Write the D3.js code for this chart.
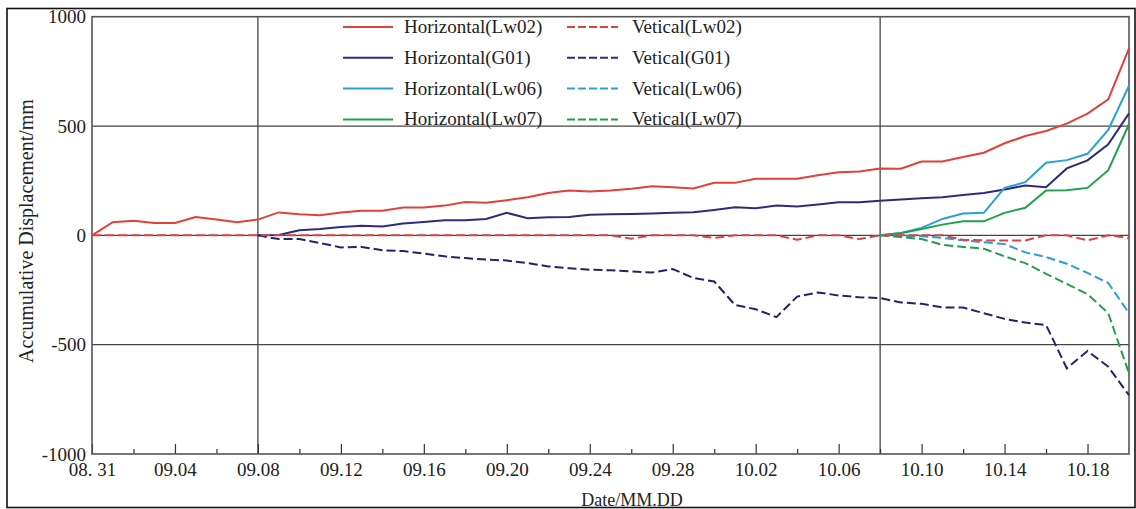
<!DOCTYPE html>
<html>
<head>
<meta charset="utf-8">
<script src="https://cdn.jsdelivr.net/npm/d3@7"></script>
<style>
  html, body { margin: 0; padding: 0; background: #fff; }
  svg { display: block; }
  text { font-family: "Liberation Serif", "Times New Roman", serif; fill: #222; }
</style>
</head>
<body>
<svg id="chart" width="1136" height="509"></svg>
<script>
// ---------- data ----------
const startDate = "2013-08-31";
const dayCount = 51; // 08.31 .. 10.20
const tickLabels = ["08. 31","09.04","09.08","09.12","09.16","09.20","09.24","09.28","10.02","10.06","10.10","10.14","10.18"];
const yTicks = [-1000, -500, 0, 500, 1000];
const seriesNames = ["Horizontal(Lw02)","Vetical(Lw02)","Horizontal(G01)","Vetical(G01)","Horizontal(Lw06)","Vetical(Lw06)","Horizontal(Lw07)","Vetical(Lw07)"];

const hLw02 = [0,60,67,57,57,84,72,60,72,105, 97,92,105,113,113,127,127,136,153,149, 161,174,194,205,200,205,213,225,220,214, 240,240,259,259,259,275,289,292,306,305, 338,338,358,378,421,454,477,511,557,622,855];
const vLw02 = [0,0,0,0,0,0,0,0,0,0, 0,0,0,0,0,0,0,0,0,0, 0,0,0,0,0,0,-15,0,0,0, -12,0,0,0,-20,0,0,-17,0,0, 0,0,-20,-23,-23,-23,0,0,-23,0,-12];
const hG01 = [null,null,null,null,null,null,null,null,0,2, 23,29,38,44,41,54,61,69,69,75, 103,78,83,84,94,96,98,100,103,106, 116,128,124,136,132,141,151,151,158,164, 170,174,184,194,210,228,220,306,343,416,558];
const vG01 = [null,null,null,null,null,null,null,null,0,-17, -17,-35,-55,-53,-68,-72,-83,-96,-104,-111, -115,-127,-142,-150,-157,-160,-165,-170,-154,-195, -211,-318,-338,-374,-280,-261,-275,-283,-287,-307, -313,-330,-330,-356,-382,-399,-410,-608,-529,-601,-731];
const lateStart = 38; // 10.08
const hLw06 = [0,11,34,75,100,103,217,243,332,344,373,482,684];
const vLw06 = [0,-2,-4,-12,-23,-32,-40,-78,-99,-130,-172,-218,-356];
const hLw07 = [0,10,29,49,64,64,103,126,205,206,217,298,508];
const vLw07 = [0,-8,-17,-43,-53,-61,-96,-127,-176,-222,-269,-356,-631];

const colors = { Lw02: "#e2403a", G01: "#2f2b7c", Lw06: "#2a9fd8", Lw07: "#20a04e" };

// ---------- setup ----------
const svg = d3.select("#chart");
const parse = d3.timeParse("%Y-%m-%d");
const d0 = parse(startDate);
const dates = d3.timeDay.range(d0, d3.timeDay.offset(d0, dayCount));
const lateDates = dates.slice(lateStart);

const L = 92, R = 1129, T = 16.7, B = 454;
const x = d3.scaleTime().domain([dates[0], dates[dates.length - 1]]).range([L, R]);
const y = d3.scaleLinear().domain([-1000, 1000]).range([B, T]);

// outer frame
svg.append("rect").attr("x", 7).attr("y", 8.5).attr("width", 1128).attr("height", 499)
  .attr("fill", "none").attr("stroke", "#111").attr("stroke-width", 1.6);

// gridlines
const gridG = svg.append("g");
[-500, 0, 500].forEach(v => {
  gridG.append("line").attr("x1", L).attr("x2", R).attr("y1", y(v)).attr("y2", y(v))
    .attr("stroke", "#444").attr("stroke-width", 1.3);
});
[dates[8], dates[38]].forEach(dt => {
  gridG.append("line").attr("x1", x(dt)).attr("x2", x(dt)).attr("y1", T).attr("y2", B)
    .attr("stroke", "#444").attr("stroke-width", 1.3);
});

// axes
const majorDates = tickLabels.map((_, i) => dates[i * 4]);
const minorDates = majorDates.map(dt => d3.timeDay.offset(dt, 2)).filter(dt => dt < dates[dates.length - 1]);

const xMinor = svg.append("g").attr("transform", `translate(0,${B})`)
  .call(d3.axisBottom(x).tickValues(minorDates).tickSizeInner(-5).tickSizeOuter(0).tickFormat(""));
xMinor.select(".domain").remove();
xMinor.selectAll("line").attr("stroke", "#333").attr("stroke-width", 1.2);

const xAxis = svg.append("g").attr("transform", `translate(0,${B})`)
  .call(d3.axisBottom(x).tickValues(majorDates).tickSizeInner(-10).tickSizeOuter(0)
    .tickPadding(9).tickFormat((d, i) => tickLabels[i]));
xAxis.select(".domain").remove();
xAxis.selectAll("line").attr("stroke", "#333").attr("stroke-width", 1.2);
xAxis.selectAll("text").attr("font-size", 19).attr("font-family", "Liberation Serif").attr("fill", "#222");

const yAxis = svg.append("g").attr("transform", `translate(${L},0)`)
  .call(d3.axisLeft(y).tickValues(yTicks).tickSize(0).tickPadding(6).tickFormat(d => String(d)));
yAxis.select(".domain").remove();
yAxis.selectAll("text").attr("font-size", 19).attr("font-family", "Liberation Serif").attr("fill", "#222");

// plot frame
svg.append("rect").attr("x", L).attr("y", T).attr("width", R - L).attr("height", B - T)
  .attr("fill", "none").attr("stroke", "#555").attr("stroke-width", 1.6);

// series
const line = d3.line().defined(d => d[1] !== null).x(d => x(d[0])).y(d => y(d[1]));
const dash = "9,4";
const series = [
  { vals: hLw02, ds: dates, color: colors.Lw02, dashed: false },
  { vals: hG01, ds: dates, color: colors.G01, dashed: false },
  { vals: hLw06, ds: lateDates, color: colors.Lw06, dashed: false },
  { vals: hLw07, ds: lateDates, color: colors.Lw07, dashed: false },
  { vals: vG01, ds: dates, color: "#25226a", dashed: true },
  { vals: vLw06, ds: lateDates, color: colors.Lw06, dashed: true },
  { vals: vLw07, ds: lateDates, color: colors.Lw07, dashed: true },
  { vals: vLw02, ds: dates, color: colors.Lw02, dashed: true }
];
const plotG = svg.append("g");
series.forEach(s => {
  plotG.append("path")
    .datum(s.vals.map((v, i) => [s.ds[i], v]))
    .attr("d", line)
    .attr("fill", "none")
    .attr("stroke", s.color)
    .attr("stroke-width", 2)
    .attr("stroke-dasharray", s.dashed ? dash : null);
});

// legend
const legendRows = [
  { key: "Lw02", color: colors.Lw02 },
  { key: "G01", color: colors.G01 },
  { key: "Lw06", color: colors.Lw06 },
  { key: "Lw07", color: colors.Lw07 }
];
const lg = svg.append("g");
legendRows.forEach((r, i) => {
  const ly = 27 + i * 30.8;
  lg.append("line").attr("x1", 343).attr("x2", 393).attr("y1", ly).attr("y2", ly)
    .attr("stroke", r.color).attr("stroke-width", 2);
  lg.append("text").attr("x", 404).attr("y", ly + 6).attr("font-size", 19).text(seriesNames[i * 2]);
  lg.append("line").attr("x1", 567).attr("x2", 618).attr("y1", ly).attr("y2", ly)
    .attr("stroke", r.color).attr("stroke-width", 2).attr("stroke-dasharray", "8,3");
  lg.append("text").attr("x", 632).attr("y", ly + 6).attr("font-size", 19).text(seriesNames[i * 2 + 1]);
});

// titles
svg.append("text").attr("transform", `translate(33,231) rotate(-90)`)
  .attr("text-anchor", "middle").attr("font-size", 20).text("Accumulative Displacement/mm");
svg.append("text").attr("x", 632).attr("y", 506).attr("text-anchor", "middle")
  .attr("font-size", 18).text("Date/MM.DD");
</script>
</body>
</html>
